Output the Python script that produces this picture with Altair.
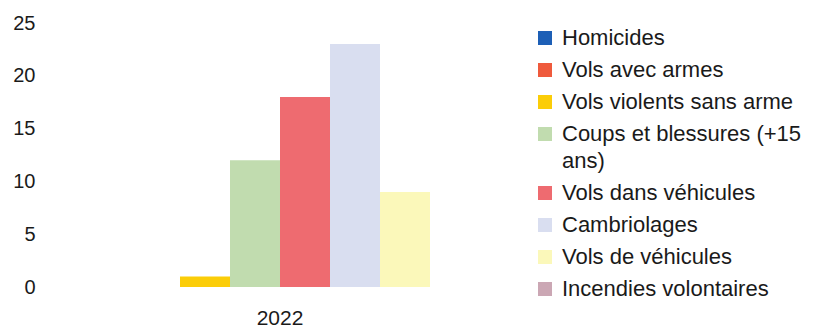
import altair as alt
import pandas as pd

# Offences recorded in 2022, one bar per category
year = ["2022"]
crimes = [
    "Homicides",
    "Vols avec armes",
    "Vols violents sans arme",
    "Coups et blessures (+15 ans)",
    "Vols dans véhicules",
    "Cambriolages",
    "Vols de véhicules",
    "Incendies volontaires",
]
counts = [0, 0, 1, 12, 18, 23, 9, 0]
colors = [
    "#1d5fb6",
    "#ef5a3c",
    "#fbcd08",
    "#c1dcaf",
    "#ee6b70",
    "#d9def0",
    "#fbf8ba",
    "#cba7b4",
]

df = pd.DataFrame({"annee": year * len(crimes), "infraction": crimes, "nombre": counts})

FONT = "Liberation Sans"
TEXT = "#1a1a1a"

label_expr = (
    "datum.label == 'Coups et blessures (+15 ans)' "
    "? ['Coups et blessures (+15', 'ans)'] : datum.label"
)

chart = (
    alt.Chart(df)
    .mark_bar(strokeWidth=0)
    .encode(
        x=alt.X(
            "annee:N",
            title=None,
            scale=alt.Scale(paddingInner=0, paddingOuter=0.0875),
            axis=alt.Axis(
                labelAngle=0,
                ticks=False,
                domain=False,
                labelPadding=20,
                labelFontSize=21,
                labelFont=FONT,
                labelColor=TEXT,
            ),
        ),
        xOffset=alt.XOffset(
            "infraction:N",
            sort=crimes,
            scale=alt.Scale(domain=crimes, paddingInner=0, paddingOuter=0),
        ),
        y=alt.Y(
            "nombre:Q",
            title=None,
            scale=alt.Scale(domain=[0, 25], nice=False),
            axis=alt.Axis(
                values=[0, 5, 10, 15, 20, 25],
                grid=False,
                ticks=False,
                domain=False,
                labelPadding=10,
                labelFontSize=20,
                labelFont=FONT,
                labelColor=TEXT,
            ),
        ),
        color=alt.Color(
            "infraction:N",
            sort=crimes,
            scale=alt.Scale(domain=crimes, range=colors),
            legend=alt.Legend(
                title=None,
                orient="none",
                legendX=489,
                legendY=4,
                padding=0,
                symbolType="square",
                symbolSize=196,
                symbolStrokeWidth=0,
                labelOffset=6,
                labelFontSize=22,
                labelFont=FONT,
                labelColor=TEXT,
                labelLimit=320,
                rowPadding=10,
                labelExpr=label_expr,
            ),
        ),
    )
    .properties(
        width=470,
        height=264,
        autosize=alt.AutoSizeParams(type="none"),
        padding={"left": 45, "top": 23, "right": 299, "bottom": 40},
    )
    .configure(background="white", style={"guide-label": {"lineHeight": 27}})
    .configure_view(stroke=None, strokeWidth=0)
    .configure_axis(domain=False, grid=False, ticks=False)
)

chart.save("out.html", embed_options={"renderer": "svg", "actions": False})
